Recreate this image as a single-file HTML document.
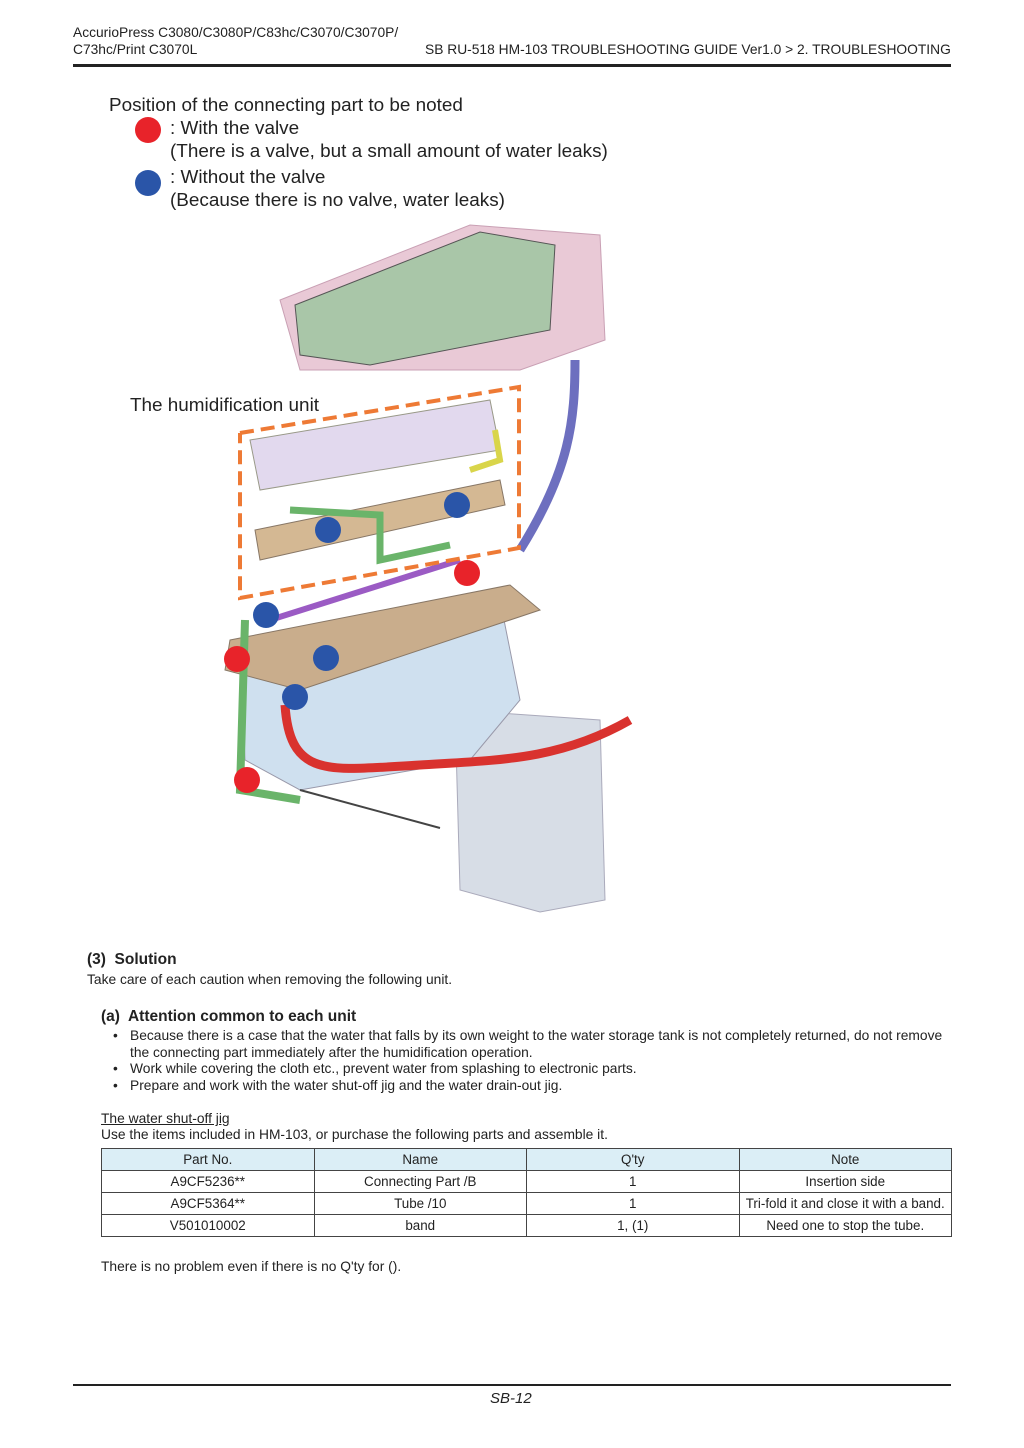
<!DOCTYPE html>
<html><head><meta charset="utf-8"><style>
body{margin:0;background:#fff}
#p{position:relative;width:1024px;height:1448px;font-family:"Liberation Sans",sans-serif;color:#222;overflow:hidden}
.a{position:absolute;white-space:nowrap}
.s{font-size:13.8px}
.b{font-size:18.9px}
table{position:absolute;left:101px;top:1148px;width:851px;border-collapse:collapse;font-size:13.4px}
td{border:1px solid #444;text-align:center;height:21px;padding:0;width:25%}
tr:first-child td{background:#dbeef6}
</style></head><body><div id="p">
<div class="a s" style="left:73px;top:25px">AccurioPress C3080/C3080P/C83hc/C3070/C3070P/</div>
<div class="a s" style="left:73px;top:42px">C73hc/Print C3070L</div>
<div class="a s" style="left:425px;top:42px">SB RU-518 HM-103 TROUBLESHOOTING GUIDE Ver1.0 &gt; 2. TROUBLESHOOTING</div>
<div class="a" style="left:73px;top:64px;width:878px;height:3px;background:#222"></div>

<div class="a b" style="left:109px;top:95px">Position of the connecting part to be noted</div>
<div class="a" style="left:135px;top:117px;width:26px;height:26px;border-radius:50%;background:#e8232a"></div>
<div class="a b" style="left:170px;top:118px">: With the valve</div>
<div class="a b" style="left:170px;top:141px">(There is a valve, but a small amount of water leaks)</div>
<div class="a" style="left:135px;top:170px;width:26px;height:26px;border-radius:50%;background:#2a55a8"></div>
<div class="a b" style="left:170px;top:167px">: Without the valve</div>
<div class="a b" style="left:170px;top:190px">(Because there is no valve, water leaks)</div>
<div class="a b" style="left:130px;top:395px">The humidification unit</div>

<svg class="a" style="left:0;top:0" width="1024" height="940">
<polygon points="280,300 470,225 600,235 605,340 520,370 300,370" fill="#e9c9d6" stroke="#c9a0b4"/>
<polygon points="295,305 480,232 555,245 550,330 370,365 300,355" fill="#a9c6a8" stroke="#555"/>
<polygon points="455,710 600,720 605,900 540,912 460,890" fill="#d7dde6" stroke="#aab"/>
<polygon points="240,650 500,600 520,700 470,760 300,790 245,760" fill="#cfe0ef" stroke="#99a"/>
<polygon points="230,640 510,585 540,610 300,690 225,670" fill="#c9ad8c" stroke="#876"/>
<polygon points="250,440 490,400 500,450 260,490" fill="#e2d9ee" stroke="#998"/>
<polygon points="255,530 500,480 505,505 260,560" fill="#d4b893" stroke="#876"/>
<path d="M575,360 C575,420 570,470 520,550" stroke="#6d6fbf" stroke-width="9" fill="none"/>
<path d="M285,705 C290,780 330,770 420,765 C500,760 560,760 630,720" stroke="#d9322e" stroke-width="9" fill="none"/>
<path d="M245,620 L240,790 L300,800" stroke="#6ab46a" stroke-width="8" fill="none"/>
<path d="M290,510 L380,515 L380,560 L450,545" stroke="#6ab46a" stroke-width="7" fill="none"/>
<path d="M470,470 L500,460 L495,430" stroke="#d9d54a" stroke-width="6" fill="none"/>
<path d="M270,620 L460,560" stroke="#9b5bc4" stroke-width="6" fill="none"/>
<line x1="300" y1="790" x2="440" y2="828" stroke="#444" stroke-width="2"/>
<polyline points="240,433 519,387 519,548 240,598 240,433" fill="none" stroke="#ee7a35" stroke-width="4" stroke-dasharray="14,7"/>
<g fill="#2a55a8"><circle cx="328" cy="530" r="13"/><circle cx="457" cy="505" r="13"/><circle cx="266" cy="615" r="13"/><circle cx="326" cy="658" r="13"/><circle cx="295" cy="697" r="13"/></g>
<g fill="#e8232a"><circle cx="467" cy="573" r="13"/><circle cx="237" cy="659" r="13"/><circle cx="247" cy="780" r="13"/></g>
</svg>

<div class="a" style="left:87px;top:951px;font-size:15.5px;font-weight:bold">(3)&nbsp; Solution</div>
<div class="a s" style="left:87px;top:972px">Take care of each caution when removing the following unit.</div>
<div class="a" style="left:101px;top:1008px;font-size:15.5px;font-weight:bold">(a)&nbsp; Attention common to each unit</div>
<div class="a s" style="left:113px;top:1028px">•</div>
<div class="a s" style="left:130px;top:1028px">Because there is a case that the water that falls by its own weight to the water storage tank is not completely returned, do not remove</div>
<div class="a s" style="left:130px;top:1045px">the connecting part immediately after the humidification operation.</div>
<div class="a s" style="left:113px;top:1061px">•</div>
<div class="a s" style="left:130px;top:1061px">Work while covering the cloth etc., prevent water from splashing to electronic parts.</div>
<div class="a s" style="left:113px;top:1078px">•</div>
<div class="a s" style="left:130px;top:1078px">Prepare and work with the water shut-off jig and the water drain-out jig.</div>
<div class="a s" style="left:101px;top:1111px;text-decoration:underline">The water shut-off jig</div>
<div class="a s" style="left:101px;top:1127px">Use the items included in HM-103, or purchase the following parts and assemble it.</div>
<table>
<tr><td>Part No.</td><td>Name</td><td>Q'ty</td><td>Note</td></tr>
<tr><td>A9CF5236**</td><td>Connecting Part /B</td><td>1</td><td>Insertion side</td></tr>
<tr><td>A9CF5364**</td><td>Tube /10</td><td>1</td><td>Tri-fold it and close it with a band.</td></tr>
<tr><td>V501010002</td><td>band</td><td>1, (1)</td><td>Need one to stop the tube.</td></tr>
</table>
<div class="a s" style="left:101px;top:1259px">There is no problem even if there is no Q'ty for ().</div>
<div class="a" style="left:73px;top:1384px;width:878px;height:2px;background:#222"></div>
<div class="a" style="left:490px;top:1390px;font-size:15px;font-style:italic">SB-12</div>
</div></body></html>
